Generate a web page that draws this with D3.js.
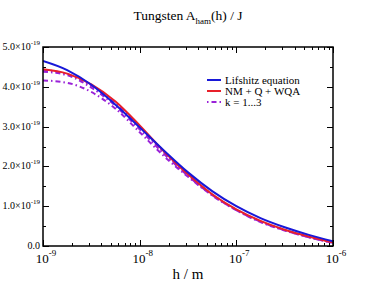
<!DOCTYPE html>
<html>
<head>
<meta charset="utf-8">
<script src="https://cdn.jsdelivr.net/npm/d3@7"></script>
<style>
  body { margin: 0; background: #fff; }
</style>
</head>
<body>
<svg id="chart" width="376" height="291" font-family="Liberation Serif, DejaVu Serif, serif"></svg>
<script>
// log10(h / m) sample points
const logH = [-9, -8.75, -8.5, -8.25, -8, -7.75, -7.5, -7.25, -7, -6.75, -6.5, -6.25, -6];

// Hamaker values in units of 1e-19 J
const lifshitz = [4.65, 4.42, 4.05, 3.55, 2.98, 2.40, 1.85, 1.38, 1.00, 0.70, 0.47, 0.28, 0.12];
const nmqwqa   = [4.44, 4.33, 4.06, 3.63, 3.03, 2.38, 1.80, 1.30, 0.92, 0.63, 0.41, 0.24, 0.09];
const k1       = [4.16, 4.10, 3.87, 3.45, 2.86, 2.26, 1.74, 1.27, 0.90, 0.60, 0.39, 0.22, 0.08];
const k2       = [4.38, 4.29, 3.98, 3.52, 2.93, 2.32, 1.76, 1.28, 0.90, 0.61, 0.40, 0.22, 0.08];
const k3       = [4.42, 4.32, 4.03, 3.58, 2.98, 2.35, 1.78, 1.29, 0.91, 0.62, 0.40, 0.23, 0.085];

const yTicks = [0, 1, 2, 3, 4, 5];
const xDecades = [-9, -8, -7, -6];
const legendLabels = ['Lifshitz equation', 'NM + Q + WQA', 'k = 1...3'];

const svg = d3.select('#chart');
const margin = { left: 43, right: 43, top: 47, bottom: 45 };
const W = 376, H = 291;
const serif = 'Liberation Serif';

const x = d3.scaleLog().domain([1e-9, 1e-6]).range([margin.left, W - margin.right]);
const y = d3.scaleLinear().domain([0, 5]).range([H - margin.bottom, margin.top]);

const purple = '#9a22d8';
const series = [
  { vals: lifshitz, color: '#1818d8', dash: null },
  { vals: nmqwqa, color: '#e8202a', dash: null },
  { vals: k1, color: purple, dash: '5,3,1.5,3' },
  { vals: k2, color: purple, dash: '5,3,1.5,3' },
  { vals: k3, color: purple, dash: '5,3,1.5,3' }
];

const line = d3.line()
  .x((d, i) => x(Math.pow(10, logH[i])))
  .y(d => y(d))
  .curve(d3.curveMonotoneX);

// curves (clipped to frame)
svg.append('clipPath').attr('id', 'clip')
  .append('rect')
  .attr('x', margin.left).attr('y', margin.top)
  .attr('width', W - margin.left - margin.right)
  .attr('height', H - margin.top - margin.bottom);

const plot = svg.append('g').attr('clip-path', 'url(#clip)');
// draw purple first, then red, then blue on top
[2, 3, 4, 1, 0].forEach(i => {
  const s = series[i];
  plot.append('path')
    .attr('d', line(s.vals))
    .attr('fill', 'none')
    .attr('stroke', s.color)
    .attr('stroke-width', 2)
    .attr('stroke-dasharray', s.dash);
});

// ticks (inward, on all four sides)
const ticks = svg.append('g').attr('stroke', '#000').attr('stroke-width', 1);
const x0 = margin.left, x1 = W - margin.right, y0 = H - margin.bottom, y1 = margin.top;

for (let v = 0; v <= 5; v += 0.5) {
  const len = Number.isInteger(v) ? 6 : 3;
  const yy = Math.round(y(v)) + 0.5;
  ticks.append('line').attr('x1', x0).attr('x2', x0 + len).attr('y1', yy).attr('y2', yy);
  ticks.append('line').attr('x1', x1).attr('x2', x1 - len).attr('y1', yy).attr('y2', yy);
}
xDecades.forEach((d, di) => {
  for (let m = 1; m <= 9; m++) {
    if (m > 1 && di === xDecades.length - 1) break;
    const len = m === 1 ? 6 : 3;
    const xx = Math.round(x(m * Math.pow(10, d))) + 0.5;
    ticks.append('line').attr('x1', xx).attr('x2', xx).attr('y1', y0).attr('y2', y0 - len);
    ticks.append('line').attr('x1', xx).attr('x2', xx).attr('y1', y1).attr('y2', y1 + len);
  }
});

// frame
svg.append('rect')
  .attr('x', x0).attr('y', y1)
  .attr('width', x1 - x0).attr('height', y0 - y1)
  .attr('fill', 'none').attr('stroke', '#000').attr('stroke-width', 1.5);

// y tick labels
yTicks.forEach(v => {
  const t = svg.append('text')
    .attr('x', 40).attr('y', y(v) + 3)
    .attr('text-anchor', 'end')
    .attr('font-family', serif)
    .attr('font-size', 10);
  if (v === 0) {
    t.text('0.0');
  } else {
    t.append('tspan').text(v.toFixed(1) + '\u00d710');
    t.append('tspan').attr('font-size', 7).attr('dy', -5).text('-19');
  }
});

// x tick labels
xDecades.forEach(d => {
  const t = svg.append('text')
    .attr('x', x(Math.pow(10, d)) + 3).attr('y', 263)
    .attr('text-anchor', 'middle')
    .attr('font-family', serif)
    .attr('font-size', 13);
  t.append('tspan').text('10');
  t.append('tspan').attr('font-size', 9).attr('dy', -7).text(d);
});

// axis title
svg.append('text')
  .attr('x', 188).attr('y', 279)
  .attr('text-anchor', 'middle')
  .attr('font-family', serif)
  .attr('font-size', 15)
  .text('h / m');

// chart title
const title = svg.append('text')
  .attr('x', 188).attr('y', 20)
  .attr('text-anchor', 'middle')
  .attr('font-family', serif)
  .attr('font-size', 13.5);
title.append('tspan').text('Tungsten A');
title.append('tspan').attr('font-size', 9).attr('dy', 4).text('ham');
title.append('tspan').attr('dy', -4).text('(h) / J');

// legend
const legend = svg.append('g');
legendLabels.forEach((lab, i) => {
  const s = series[i];
  const ly = 80 + i * 11;
  legend.append('line')
    .attr('x1', 207).attr('x2', 221).attr('y1', ly).attr('y2', ly)
    .attr('stroke', s.color).attr('stroke-width', 2)
    .attr('stroke-dasharray', s.dash ? '1.5,3,5,3' : null);
  legend.append('text')
    .attr('x', 225).attr('y', ly + 3.5)
    .attr('font-family', serif)
    .attr('font-size', 11)
    .text(lab);
});
</script>
</body>
</html>
